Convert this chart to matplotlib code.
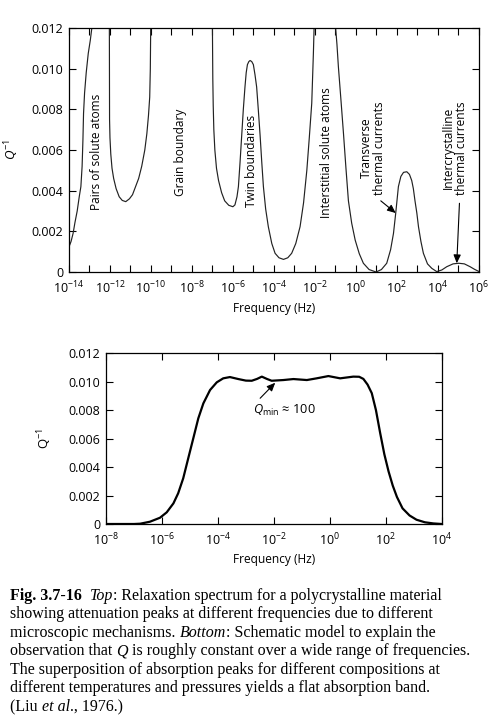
import numpy as np
import matplotlib
matplotlib.use('Agg')
import matplotlib.pyplot as plt
from matplotlib.ticker import FixedLocator, FixedFormatter, NullLocator
import matplotlib.transforms as mtransforms

# ---------------- data ----------------
top_log_freq = [-14.0, -13.9, -13.8, -13.71, -13.6, -13.5, -13.42, -13.36, -13.32, -13.29,
                -13.24, -13.16, -13.06, -12.96, -12.86,
                -12.03, -12.02, -12.0, -11.96, -11.9, -11.82, -11.7, -11.55, -11.4, -11.23,
                -11.05, -10.9, -10.75, -10.6, -10.45, -10.3, -10.2, -10.12, -10.06, -10.03, -10.01,
                -7.0, -6.98, -6.96, -6.93, -6.88, -6.8, -6.7, -6.55, -6.4, -6.2, -6.0, -5.9, -5.8,
                -5.73, -5.65, -5.57, -5.49, -5.41, -5.35, -5.29, -5.22, -5.16, -5.08, -5.0, -4.92,
                -4.84, -4.76, -4.67, -4.59, -4.51, -4.4, -4.27, -4.1, -3.94, -3.75, -3.53, -3.32,
                -3.13, -2.93, -2.72, -2.55, -2.39, -2.27, -2.15, -2.07, -2.03,
                -1.0, -0.92, -0.85, -0.72, -0.60, -0.48, -0.36, -0.2, -0.03, 0.17, 0.37, 0.65,
                0.99, 1.25, 1.51, 1.70, 1.84, 1.95, 2.08, 2.2, 2.33, 2.49, 2.62, 2.73, 2.81, 2.89,
                2.98, 3.06, 3.18, 3.30, 3.5, 3.71, 3.95, 4.2, 4.44, 4.75, 5.03, 5.3, 5.58, 5.8, 6.0]
top_inv_q = [0.00124, 0.0015, 0.0019, 0.00243, 0.0030, 0.0037, 0.0042, 0.0052, 0.0065, 0.0078,
             0.0088, 0.0098, 0.01075, 0.0114, 0.0122,
             0.0122, 0.0075, 0.0066, 0.0058, 0.0051, 0.0046, 0.0041, 0.0037, 0.00352, 0.00346,
             0.0036, 0.0038, 0.0042, 0.0046, 0.0052, 0.0060, 0.0068, 0.0077, 0.0086, 0.0100, 0.0122,
             0.0122, 0.0095, 0.0082, 0.0070, 0.0060, 0.0051, 0.0045, 0.0039, 0.0035, 0.00328,
             0.00321, 0.0033, 0.0037,
             0.0042, 0.0054, 0.0067, 0.0080, 0.0091, 0.0098, 0.0102, 0.01035, 0.0104, 0.01035,
             0.0102, 0.0097,
             0.0091, 0.0080, 0.0067, 0.0054, 0.0042, 0.0031, 0.00223, 0.0014, 0.00092, 0.0007,
             0.00062, 0.0007,
             0.00092, 0.0014, 0.00223, 0.0034, 0.0050, 0.0066, 0.0083, 0.01075, 0.0122,
             0.0122, 0.0112, 0.0101, 0.0084, 0.0068, 0.0051, 0.0035, 0.0024, 0.00157, 0.0009,
             0.00043, 0.00012,
             0.0, 0.00012, 0.00043, 0.0011, 0.0019, 0.0029, 0.0042, 0.0047, 0.0049, 0.00493,
             0.0048, 0.0045, 0.0041, 0.0035,
             0.0029, 0.00223, 0.0015, 0.00092, 0.0004, 0.00018, 0.00002, 0.0001, 0.00026, 0.0004,
             0.00043, 0.0004, 0.00026, 0.00013, 0.00003]

bottom_log_freq = [-8.0, -7.5, -7.0, -6.78, -6.43, -6.07, -5.83, -5.59, -5.42, -5.24, -5.06,
                   -4.88, -4.70, -4.52, -4.28, -4.04, -3.81, -3.57, -3.27, -3.0, -2.79, -2.6,
                   -2.43, -2.25, -2.08, -1.66, -1.30, -0.82, -0.47, -0.05, 0.37, 0.84, 1.05,
                   1.20, 1.35, 1.50, 1.65, 1.80, 1.95, 2.10, 2.25, 2.40, 2.60, 2.85, 3.1, 3.4,
                   3.7, 4.0]
bottom_inv_q = [0.0, 0.0, 0.0, 0.00002, 0.00016, 0.00044, 0.00082, 0.00145, 0.00216, 0.00321,
                0.00462, 0.00602, 0.00743, 0.00848, 0.00942, 0.00996, 0.01024, 0.01033, 0.01019,
                0.01008, 0.01007, 0.0102, 0.01036, 0.0102, 0.01007, 0.01012, 0.01019, 0.01012,
                0.01024, 0.0104, 0.01024, 0.01036, 0.01035, 0.0102, 0.0098, 0.0092, 0.0080,
                0.0064, 0.0049, 0.0037, 0.0027, 0.0019, 0.0011, 0.0006, 0.0003, 0.00012,
                0.00004, 0.0]

top_xtick_exps = list(range(-14, 7))
bottom_xtick_exps = list(range(-8, 5, 2))
ytick_values = [0, 0.002, 0.004, 0.006, 0.008, 0.010, 0.012]
ytick_labels = ['0', '0.002', '0.004', '0.006', '0.008', '0.010', '0.012']

peak_labels = ['Pairs of solute atoms', 'Grain boundary', 'Twin boundaries',
               'Interstitial solute atoms', 'Transverse\nthermal currents',
               'Intercrystalline\nthermal currents']
peak_label_logx = [-12.65, -8.58, -5.08, -1.43, 0.84, 4.85]
peak_label_y = [0.0059, 0.0059, 0.00546, 0.00585, 0.0061, 0.0061]

caption_lines = [
    [('Fig. 3.7-16  ', 'b'), ('Top', 'i'), (': Relaxation spectrum for a polycrystalline material', 'n')],
    [('showing attenuation peaks at different frequencies due to different', 'n')],
    [('microscopic mechanisms. ', 'n'), ('Bottom', 'i'), (': Schematic model to explain the', 'n')],
    [('observation that ', 'n'), ('Q', 'i'), (' is roughly constant over a wide range of frequencies.', 'n')],
    [('The superposition of absorption peaks for different compositions at', 'n')],
    [('different temperatures and pressures yields a flat absorption band.', 'n')],
    [('(Liu ', 'n'), ('et al', 'i'), ('., 1976.)', 'n')],
]

# ---------------- style ----------------
plt.rcParams['font.family'] = ['Open Sans', 'DejaVu Sans']
plt.rcParams['mathtext.fontset'] = 'custom'
plt.rcParams['mathtext.rm'] = 'Open Sans'
plt.rcParams['mathtext.it'] = 'Open Sans:italic'
plt.rcParams['mathtext.bf'] = 'Open Sans:bold'
plt.rcParams['axes.linewidth'] = 0.9

W, H = 500, 725
fig = plt.figure(figsize=(W / 100, H / 100), dpi=100)


def px_axes(l, t, r, b):
    return fig.add_axes([l / W, (H - b) / H, (r - l) / W, (b - t) / H])


tick_fs = 9.0
label_fs = 8.6


def style_axes(ax, exps, labelled_every):
    ax.set_xscale('log')
    ax.xaxis.set_major_locator(FixedLocator([10.0 ** e for e in exps]))
    ax.xaxis.set_minor_locator(NullLocator())
    ax.xaxis.set_major_formatter(FixedFormatter(
        [r'$\mathdefault{10^{%d}}$' % e if e % labelled_every == 0 else '' for e in exps]))
    ax.set_ylim(0, 0.012)
    ax.yaxis.set_major_locator(FixedLocator(ytick_values))
    ax.yaxis.set_major_formatter(FixedFormatter(ytick_labels))
    ax.tick_params(direction='in', top=True, right=True, length=5, width=0.8,
                   labelsize=tick_fs, colors='black')
    ax.tick_params(axis='x', pad=5.5)
    ax.tick_params(axis='y', pad=4)


# ---------------- top chart ----------------
ax1 = px_axes(69, 28, 478.7, 272)
ax1.plot([10.0 ** v for v in top_log_freq], top_inv_q, color='#222222', lw=0.85)
ax1.set_xlim(1e-14, 1e6)
style_axes(ax1, top_xtick_exps, 2)
ax1.set_xlabel('Frequency (Hz)', fontsize=label_fs)
ax1.xaxis.set_label_coords(0.5, -0.122)
ax1.set_ylabel(r'$Q^{-1}$', fontsize=9.5)
ax1.yaxis.set_label_coords(-0.118, 0.5)

for lab, lx, ly in zip(peak_labels, peak_label_logx, peak_label_y):
    ax1.text(10.0 ** lx, ly, lab, rotation=90, ha='center', va='center',
             multialignment='center', fontsize=label_fs, linespacing=1.0)

ax1.annotate('', xy=(10.0 ** 1.95, 0.0029), xytext=(10.0 ** 1.22, 0.0035),
             arrowprops=dict(arrowstyle='-|>,head_length=0.5,head_width=0.22',
                             color='black', lw=0.8, shrinkA=0, shrinkB=0))
ax1.annotate('', xy=(10.0 ** 4.93, 0.00043), xytext=(10.0 ** 5.06, 0.00338),
             arrowprops=dict(arrowstyle='-|>,head_length=0.5,head_width=0.22',
                             color='black', lw=0.8, shrinkA=0, shrinkB=0))

# ---------------- bottom chart ----------------
ax2 = px_axes(106, 353.3, 441.7, 524)
ax2.plot([10.0 ** v for v in bottom_log_freq], bottom_inv_q, color='black', lw=1.6)
ax2.set_xlim(1e-8, 1e4)
style_axes(ax2, bottom_xtick_exps, 2)
ax2.set_xlabel('Frequency (Hz)', fontsize=label_fs)
ax2.xaxis.set_label_coords(0.5, -0.17)
ax2.set_ylabel(r'$\mathrm{Q}^{-1}$', fontsize=9.5)
ax2.yaxis.set_label_coords(-0.155, 0.5)

ax2.annotate('', xy=(10.0 ** -1.95, 0.00993), xytext=(10.0 ** -2.49, 0.00884),
             arrowprops=dict(arrowstyle='-|>,head_length=0.5,head_width=0.22',
                             color='black', lw=0.8, shrinkA=0, shrinkB=0))
ax2.text(10.0 ** -2.74, 0.0080, r'$Q_{\mathrm{min}}$ ≈ 100', ha='left', va='center', fontsize=9.2)

# ---------------- caption ----------------
renderer = fig.canvas.get_renderer()
ident = mtransforms.IdentityTransform()
serif = ['Liberation Serif', 'DejaVu Serif']


def font_kw(style, size):
    kw = dict(family=serif, size=size)
    if style == 'b':
        kw['weight'] = 'bold'
    elif style == 'i':
        kw['style'] = 'italic'
    return kw


def run_width(txt, style, size):
    t1 = fig.text(0, 0, 'x' + txt + 'x', transform=ident, **font_kw(style, size))
    t2 = fig.text(0, 0, 'xx', transform=ident, **font_kw(style, size))
    w = t1.get_window_extent(renderer).width - t2.get_window_extent(renderer).width
    t1.remove()
    t2.remove()
    return w


base = 10.0
w4 = sum(run_width(t, s, base) for t, s in caption_lines[3])
cap_fs = base * 463.0 / w4

x_left = 10.0
for i, runs in enumerate(caption_lines):
    y_base = H - (599.5 + 18.6 * i)
    x = x_left
    for txt, st in runs:
        fig.text(x, y_base, txt, transform=ident, va='baseline', ha='left',
                 **font_kw(st, cap_fs))
        x += run_width(txt, st, cap_fs)

fig.savefig('out.png', dpi=100)
